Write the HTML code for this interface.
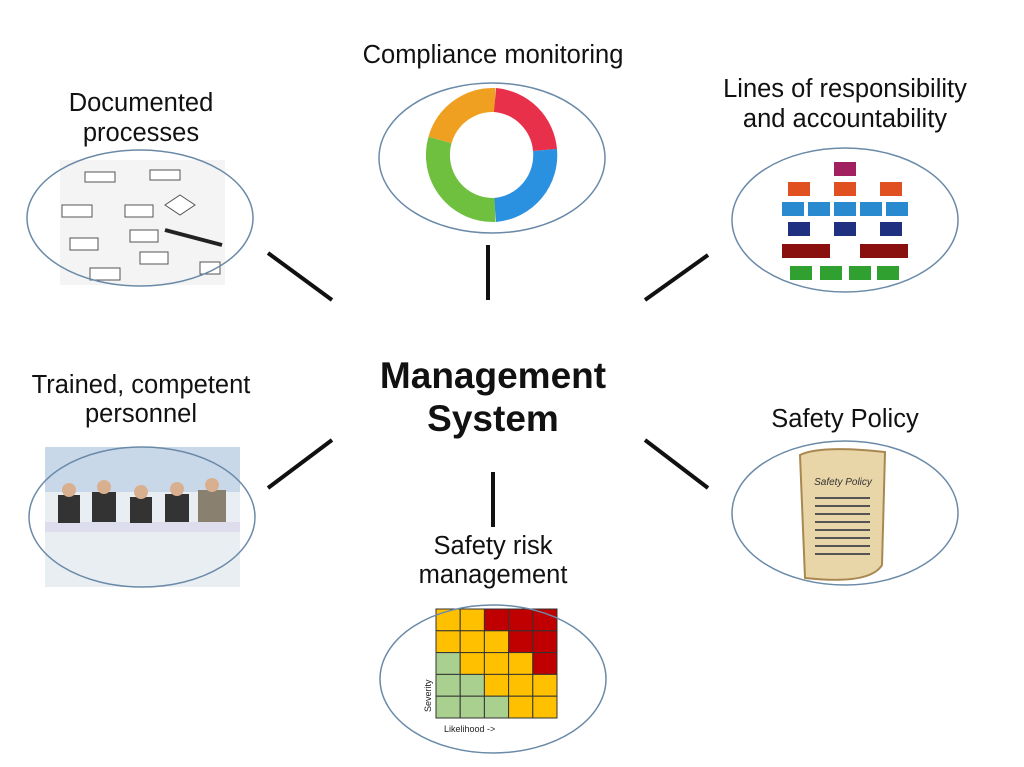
<!DOCTYPE html>
<html><head><meta charset="utf-8"><style>
html,body{margin:0;padding:0;background:#fff;}
svg{display:block;font-family:"Liberation Sans","DejaVu Sans",sans-serif;}
</style></head><body>
<svg width="1024" height="767" viewBox="0 0 1024 767" xmlns="http://www.w3.org/2000/svg">
<g stroke="#111" stroke-width="4">
<line x1="268" y1="253" x2="332" y2="300"/>
<line x1="488" y1="245" x2="488" y2="300"/>
<line x1="645" y1="300" x2="708" y2="255"/>
<line x1="268" y1="488" x2="332" y2="440"/>
<line x1="493" y1="472" x2="493" y2="527"/>
<line x1="645" y1="440" x2="708" y2="488"/>
</g>
<g font-weight="bold" font-size="37" text-anchor="middle" fill="#111">
<text x="493" y="388">Management</text>
<text x="493" y="431">System</text>
</g>
<g font-size="25.5" text-anchor="middle" fill="#111">
<text x="141" y="111">Documented</text>
<text x="141" y="141">processes</text>
<text x="493" y="63">Compliance monitoring</text>
<text x="845" y="97">Lines of responsibility</text>
<text x="845" y="127">and accountability</text>
<text x="141" y="393">Trained, competent</text>
<text x="141" y="422">personnel</text>
<text x="845" y="427">Safety Policy</text>
<text x="493" y="554">Safety risk</text>
<text x="493" y="583">management</text>
</g>
<rect x="60" y="160" width="165" height="125" fill="#f4f4f4"/>
<g fill="#fff" stroke="#555" stroke-width="1">
<rect x="85" y="172" width="30" height="10"/><rect x="150" y="170" width="30" height="10"/>
<rect x="62" y="205" width="30" height="12"/><rect x="125" y="205" width="28" height="12"/>
<polygon points="180,195 195,205 180,215 165,205"/><rect x="70" y="238" width="28" height="12"/>
<rect x="130" y="230" width="28" height="12"/><rect x="90" y="268" width="30" height="12"/>
<rect x="140" y="252" width="28" height="12"/><rect x="200" y="262" width="20" height="12"/>
</g>
<line x1="165" y1="230" x2="222" y2="245" stroke="#222" stroke-width="4"/>
<rect x="422" y="92" width="136" height="140" fill="#fff"/>
<g fill="none" stroke-width="24">
<path d="M440 140 A55 55 0 0 1 495 100" stroke="#f0a020"/>
<path d="M495 100 A55 55 0 0 1 545 150" stroke="#e8304a"/>
<path d="M545 150 A55 55 0 0 1 495 210" stroke="#2a90e0"/>
<path d="M495 210 A55 55 0 0 1 440 140" stroke="#70c040"/>
</g>
<g>
<rect x="834" y="162" width="22" height="14" fill="#a02060"/>
<rect x="788" y="182" width="22" height="14" fill="#e05020"/><rect x="834" y="182" width="22" height="14" fill="#e05020"/><rect x="880" y="182" width="22" height="14" fill="#e05020"/>
<rect x="782" y="202" width="22" height="14" fill="#2a8ad0"/><rect x="808" y="202" width="22" height="14" fill="#2a8ad0"/><rect x="834" y="202" width="22" height="14" fill="#2a8ad0"/><rect x="860" y="202" width="22" height="14" fill="#2a8ad0"/><rect x="886" y="202" width="22" height="14" fill="#2a8ad0"/>
<rect x="788" y="222" width="22" height="14" fill="#203080"/><rect x="834" y="222" width="22" height="14" fill="#203080"/><rect x="880" y="222" width="22" height="14" fill="#203080"/>
<rect x="782" y="244" width="48" height="14" fill="#8a1010"/><rect x="860" y="244" width="48" height="14" fill="#8a1010"/>
<rect x="790" y="266" width="22" height="14" fill="#30a030"/><rect x="820" y="266" width="22" height="14" fill="#30a030"/><rect x="849" y="266" width="22" height="14" fill="#30a030"/><rect x="877" y="266" width="22" height="14" fill="#30a030"/>
</g>
<rect x="45" y="447" width="195" height="140" fill="#e9eef3"/>
<rect x="45" y="447" width="195" height="45" fill="#c8d8e8"/>
<rect x="45" y="522" width="195" height="10" fill="#dde"/>
<g fill="#333">
<rect x="58" y="495" width="22" height="28"/><rect x="92" y="492" width="24" height="30"/><rect x="130" y="497" width="22" height="26"/><rect x="165" y="494" width="24" height="28"/><rect x="198" y="490" width="28" height="32" fill="#8a8070"/>
</g>
<g fill="#d8b090"><circle cx="69" cy="490" r="7"/><circle cx="104" cy="487" r="7"/><circle cx="141" cy="492" r="7"/><circle cx="177" cy="489" r="7"/><circle cx="212" cy="485" r="7"/></g>
<path d="M800 455 Q820 445 885 452 L882 565 Q870 585 805 578 Z" fill="#e8d6a8" stroke="#a88850" stroke-width="2"/>
<text x="843" y="485" font-size="10" font-style="italic" text-anchor="middle" fill="#333">Safety Policy</text>
<g stroke="#555" stroke-width="2">
<line x1="815" y1="498" x2="870" y2="498"/><line x1="815" y1="506" x2="870" y2="506"/><line x1="815" y1="514" x2="870" y2="514"/><line x1="815" y1="522" x2="870" y2="522"/><line x1="815" y1="530" x2="870" y2="530"/><line x1="815" y1="538" x2="870" y2="538"/><line x1="815" y1="546" x2="870" y2="546"/><line x1="815" y1="554" x2="870" y2="554"/>
</g>
<g stroke="#333" stroke-width="1">
<rect x="436" y="609" width="24.2" height="21.8" fill="#ffc000"/><rect x="460.2" y="609" width="24.2" height="21.8" fill="#ffc000"/><rect x="484.4" y="609" width="24.2" height="21.8" fill="#c00000"/><rect x="508.6" y="609" width="24.2" height="21.8" fill="#c00000"/><rect x="532.8" y="609" width="24.2" height="21.8" fill="#c00000"/>
<rect x="436" y="630.8" width="24.2" height="21.8" fill="#ffc000"/><rect x="460.2" y="630.8" width="24.2" height="21.8" fill="#ffc000"/><rect x="484.4" y="630.8" width="24.2" height="21.8" fill="#ffc000"/><rect x="508.6" y="630.8" width="24.2" height="21.8" fill="#c00000"/><rect x="532.8" y="630.8" width="24.2" height="21.8" fill="#c00000"/>
<rect x="436" y="652.6" width="24.2" height="21.8" fill="#a9d08e"/><rect x="460.2" y="652.6" width="24.2" height="21.8" fill="#ffc000"/><rect x="484.4" y="652.6" width="24.2" height="21.8" fill="#ffc000"/><rect x="508.6" y="652.6" width="24.2" height="21.8" fill="#ffc000"/><rect x="532.8" y="652.6" width="24.2" height="21.8" fill="#c00000"/>
<rect x="436" y="674.4" width="24.2" height="21.8" fill="#a9d08e"/><rect x="460.2" y="674.4" width="24.2" height="21.8" fill="#a9d08e"/><rect x="484.4" y="674.4" width="24.2" height="21.8" fill="#ffc000"/><rect x="508.6" y="674.4" width="24.2" height="21.8" fill="#ffc000"/><rect x="532.8" y="674.4" width="24.2" height="21.8" fill="#ffc000"/>
<rect x="436" y="696.2" width="24.2" height="21.8" fill="#a9d08e"/><rect x="460.2" y="696.2" width="24.2" height="21.8" fill="#a9d08e"/><rect x="484.4" y="696.2" width="24.2" height="21.8" fill="#a9d08e"/><rect x="508.6" y="696.2" width="24.2" height="21.8" fill="#ffc000"/><rect x="532.8" y="696.2" width="24.2" height="21.8" fill="#ffc000"/>
</g>
<text x="444" y="732" font-size="9" fill="#222">Likelihood -&gt;</text>
<text x="431" y="712" font-size="9" fill="#222" transform="rotate(-90 431 712)">Severity</text>
<g fill="none" stroke="#6a8aa8" stroke-width="1.5">
<ellipse cx="140" cy="218" rx="113" ry="68"/>
<ellipse cx="492" cy="158" rx="113" ry="75"/>
<ellipse cx="845" cy="220" rx="113" ry="72"/>
<ellipse cx="142" cy="517" rx="113" ry="70"/>
<ellipse cx="845" cy="513" rx="113" ry="72"/>
<ellipse cx="493" cy="679" rx="113" ry="74"/>
</g>
</svg>
</body></html>
